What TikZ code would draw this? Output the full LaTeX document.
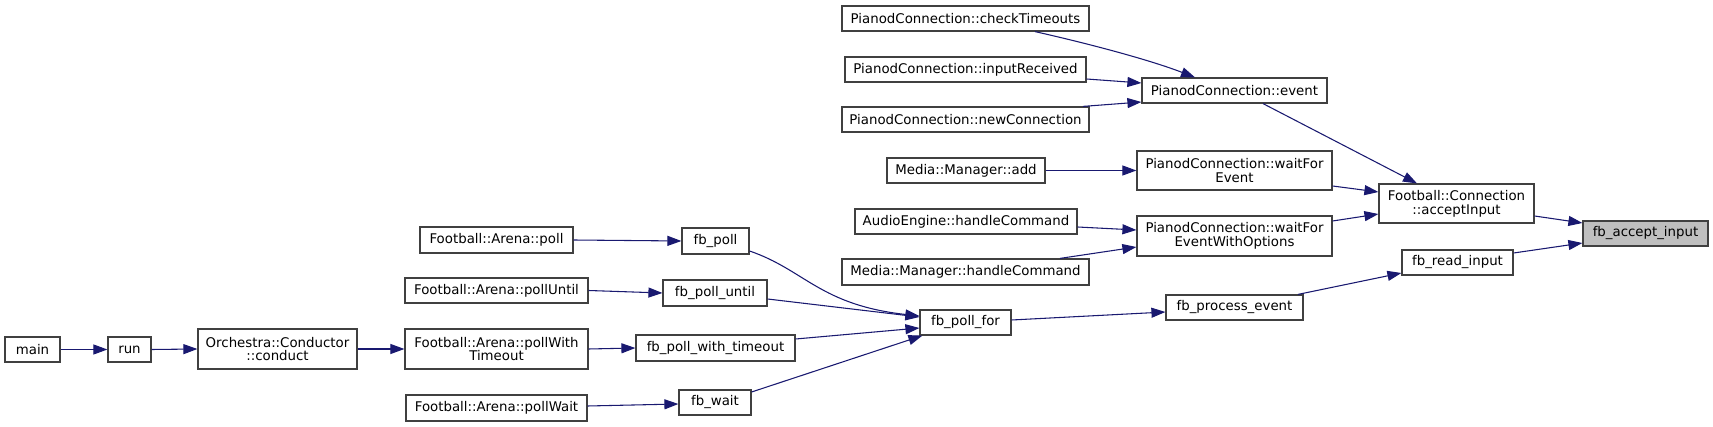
\documentclass[tikz,border=0pt]{standalone}
\usepackage{fontspec}
\setmainfont{DejaVu Sans}
\usetikzlibrary{calc,arrows.meta}
\definecolor{edgeblue}{HTML}{191970}
\definecolor{boxline}{HTML}{404040}
\definecolor{hilite}{HTML}{BFBFBF}
\tikzset{
  box/.style={draw=boxline, line width=0.9pt, fill=white, inner sep=0pt, align=center,
    font=\fontsize{10}{10.4}\selectfont},
  edge/.style={draw=edgeblue, line width=0.8pt, -{Triangle[length=10.5pt,width=7.5pt]}},
}
\newcommand\bx[7][]{\node[box,#1, minimum width={(#5-#3)*0.75pt}, minimum height={(#6-#4)*0.75pt}] (#2) at ({(#3+#5)/2},{(#4+#6)/2}) {#7};}
\begin{document}
\begin{tikzpicture}[x=0.75pt,y=-0.75pt]
\useasboundingbox (0,0) rectangle (1713,427);
\bx{ct}{842}{6}{1089}{31}{PianodConnection::checkTimeouts}
\bx{ir}{845}{57}{1086}{82}{PianodConnection::inputReceived}
\bx{nc}{842}{107}{1089}{132}{PianodConnection::newConnection}
\bx{ev}{1142}{78}{1327}{103}{PianodConnection::event}
\bx{mma}{887}{158}{1045}{183}{Media::Manager::add}
\bx{wfe}{1137}{151}{1332}{190}{PianodConnection::waitFor\\Event}
\bx{aeh}{855}{209}{1077}{234}{AudioEngine::handleCommand}
\bx{wfo}{1137}{216}{1332}{256}{PianodConnection::waitFor\\EventWithOptions}
\bx{mmh}{842}{259}{1089}{285}{Media::Manager::handleCommand}
\bx{ai}{1379}{184}{1534}{223}{Football::Connection\\::acceptInput}
\bx[fill=hilite]{fai}{1583}{221}{1708}{246}{fb\_accept\_input}
\bx{fri}{1402}{250}{1513}{275}{fb\_read\_input}
\bx{fpe}{1166}{295}{1303}{320}{fb\_process\_event}
\bx{fpf}{920}{310}{1011}{335}{fb\_poll\_for}
\bx{fp}{682}{228}{749}{254}{fb\_poll}
\bx{fpu}{663}{280}{767}{306}{fb\_poll\_until}
\bx{fpw}{636}{335}{795}{361}{fb\_poll\_with\_timeout}
\bx{fw}{679}{390}{751}{415}{fb\_wait}
\bx{ap}{420}{227}{573}{253}{Football::Arena::poll}
\bx{apu}{405}{278}{588}{303}{Football::Arena::pollUntil}
\bx{apt}{405}{329}{588}{369}{Football::Arena::pollWith\\Timeout}
\bx{apw}{406}{395}{587}{421}{Football::Arena::pollWait}
\bx{cc}{198}{329}{357}{369}{Orchestra::Conductor\\::conduct}
\bx{run}{108}{337}{151}{362}{run}
\bx{main}{5}{337}{60}{362}{main}

\draw[edge] ($(ct.south)+(69.5,0)$) .. controls (1090,44) and (1150,60) .. ($(ev.north)+(-39.5,0)$);
\draw[edge] ($(ir.east)+(0,9.5)$) -- ($(ev.west)+(0,-7.5)$);
\draw[edge] ($(nc.north)+(117.5,0)$) -- ($(ev.west)+(0,11.5)$);
\draw[edge] ($(ev.south)+(28.5,0)$) -- ($(ai.north)+(-39.5,0)$);
\draw[edge] ($(wfe.east)+(0,15.5)$) -- ($(ai.west)+(0,-11.5)$);
\draw[edge] ($(wfo.east)+(0,-15)$) -- ($(ai.west)+(0,10.5)$);
\draw[edge] ($(ai.east)+(0,12.5)$) -- ($(fai.west)+(0,-10.5)$);
\draw[edge] ($(fri.east)+(0,-9.5)$) -- ($(fai.west)+(0,9.5)$);
\draw[edge] ($(fpe.north)+(63.5,0)$) -- ($(fri.west)+(0,10.5)$);
\draw[edge] ($(fpf.east)+(0,-2.5)$) -- ($(fpe.west)+(0,4.5)$);
\draw[edge] ($(fp.east)+(0,10)$) .. controls (805,270) and (820,305) .. ($(fpf.west)+(0,-6.5)$);
\draw[edge] ($(fpu.east)+(0,6)$) -- ($(fpf.west)+(0,-5.5)$);
\draw[edge] ($(fpw.east)+(0,-9)$) -- ($(fpf.west)+(0,5.5)$);
\draw[edge] ($(fw.east)+(0,-10.5)$) -- ($(fpf.south west)+(3,0)$);
\draw[edge] (ap.east) -- (fp.west);
\draw[edge] (apu.east) -- (fpu.west);
\draw[edge] (apt.east) -- (fpw.west);
\draw[edge] ($(apw.east)+(0,-2)$) -- ($(fw.west)+(0,1.5)$);
\draw[edge] (cc.east) -- (apt.west);
\draw[edge] (run.east) -- (cc.west);
\draw[edge] (main.east) -- (run.west);
\draw[edge] (mma.east) -- (wfe.west);
\draw[edge] ($(aeh.east)+(0,5.5)$) -- ($(wfo.west)+(0,-6)$);
\draw[edge] ($(mmh.north)+(94.5,0)$) -- ($(wfo.west)+(0,11)$);
\end{tikzpicture}
\end{document}
